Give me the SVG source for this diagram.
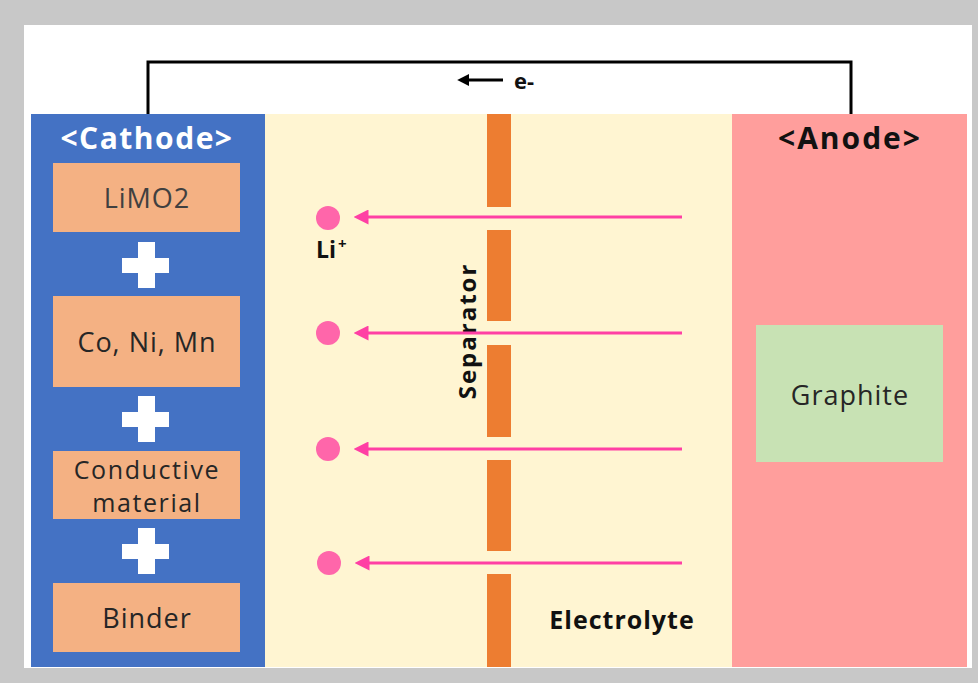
<svg xmlns="http://www.w3.org/2000/svg" width="978" height="683" viewBox="0 0 978 683">
<defs>
<marker id="ah" viewBox="0 0 10 10" refX="1" refY="5" markerWidth="5" markerHeight="5" orient="auto-start-reverse" markerUnits="strokeWidth">
<path d="M0,0 L10,5 L0,10 z" fill="#FF3FA4"/>
</marker>
<marker id="eh" viewBox="0 0 10 10" refX="1" refY="5" markerWidth="4" markerHeight="4" orient="auto-start-reverse" markerUnits="strokeWidth">
<path d="M0,0 L10,5 L0,10 z" fill="#000"/>
</marker>
</defs>
<style>
text{font-family:"Open Sans","Noto Sans","Liberation Sans",sans-serif;}
.box{fill:#F4B183;}
.bt{font-size:27px;letter-spacing:1px;fill:#262626;text-anchor:middle;}
.bt2{font-size:25px;letter-spacing:1.6px;fill:#262626;text-anchor:middle;}
.plus{fill:#ffffff;}
.sep{fill:#ED7D31;}
.dot{fill:#FF66AA;}
.ion{stroke:#FF3FA4;stroke-width:3;fill:none;}
.bold{font-weight:bold;fill:#111;}
</style>
<rect x="0" y="0" width="978" height="683" fill="#C8C8C8"/>
<rect x="24" y="25" width="948" height="643" fill="#ffffff"/>

<g id="electrolyte">
<rect x="265" y="114" width="467" height="553" fill="#FFF5D2"/>
<text x="622" y="629" class="bold" font-size="25" letter-spacing="1" text-anchor="middle">Electrolyte</text>
</g>

<g id="cathode">
<rect x="31" y="114" width="234" height="553" fill="#4472C4"/>
<text x="147" y="149" font-size="30" letter-spacing="1.5" font-weight="bold" fill="#ffffff" text-anchor="middle">&lt;Cathode&gt;</text>
</g>
<g id="limo2">
<rect class="box" x="53" y="163" width="187" height="69"/>
<text class="bt" x="147" y="208" style="fill:#404040">LiMO2</text>
</g>
<g id="plus1"><rect class="plus" x="122" y="258" width="47" height="15"/><rect class="plus" x="138" y="242" width="17" height="46"/></g>
<g id="conimn">
<rect class="box" x="53" y="296" width="187" height="91"/>
<text class="bt" x="147" y="352">Co, Ni, Mn</text>
</g>
<g id="plus2"><rect class="plus" x="122" y="412" width="47" height="15"/><rect class="plus" x="138" y="396" width="17" height="46"/></g>
<g id="conductive">
<rect class="box" x="53" y="451" width="187" height="68"/>
<text class="bt2" x="147" y="479">Conductive</text>
<text class="bt2" x="147" y="512">material</text>
</g>
<g id="plus3"><rect class="plus" x="122" y="544" width="47" height="15"/><rect class="plus" x="138" y="528" width="17" height="46"/></g>
<g id="binder">
<rect class="box" x="53" y="583" width="187" height="69"/>
<text class="bt" x="147" y="628">Binder</text>
</g>

<g id="anode">
<rect x="732" y="114" width="235" height="553" fill="#FF9E9C"/>
<text x="850" y="149" font-size="30" letter-spacing="2" class="bold" text-anchor="middle">&lt;Anode&gt;</text>
</g>
<g id="graphite">
<rect x="756" y="325" width="187" height="137" fill="#C8E2B4"/>
<text class="bt" x="850" y="405">Graphite</text>
</g>

<g id="separator">
<rect class="sep" x="487" y="114" width="24" height="93"/>
<rect class="sep" x="487" y="230" width="24" height="91"/>
<rect class="sep" x="487" y="345" width="24" height="92"/>
<rect class="sep" x="487" y="460" width="24" height="91"/>
<rect class="sep" x="487" y="574" width="24" height="93"/>
<text class="bold" font-size="24" letter-spacing="2" text-anchor="middle" transform="translate(476,331) rotate(-90)">Separator</text>
</g>

<g id="ions">
<circle class="dot" cx="328" cy="218" r="12"/>
<circle class="dot" cx="328" cy="333" r="12"/>
<circle class="dot" cx="328" cy="449" r="12"/>
<circle class="dot" cx="329" cy="563" r="12"/>
<text x="316" y="258" class="bold" font-size="23">Li<tspan font-size="15" dy="-9" dx="2">+</tspan></text>
</g>

<g id="connectors">
<polyline points="148,114 148,62 851,62 851,114" fill="none" stroke="#000" stroke-width="3"/>
<line x1="503" y1="80" x2="468" y2="80" stroke="#000" stroke-width="3" marker-end="url(#eh)"/>
<text x="514" y="89" class="bold" font-size="22">e-</text>
<line class="ion" x1="682" y1="217" x2="367" y2="217" marker-end="url(#ah)"/>
<line class="ion" x1="682" y1="333" x2="367" y2="333" marker-end="url(#ah)"/>
<line class="ion" x1="682" y1="449" x2="367" y2="449" marker-end="url(#ah)"/>
<line class="ion" x1="682" y1="563" x2="368" y2="563" marker-end="url(#ah)"/>
</g>
</svg>
